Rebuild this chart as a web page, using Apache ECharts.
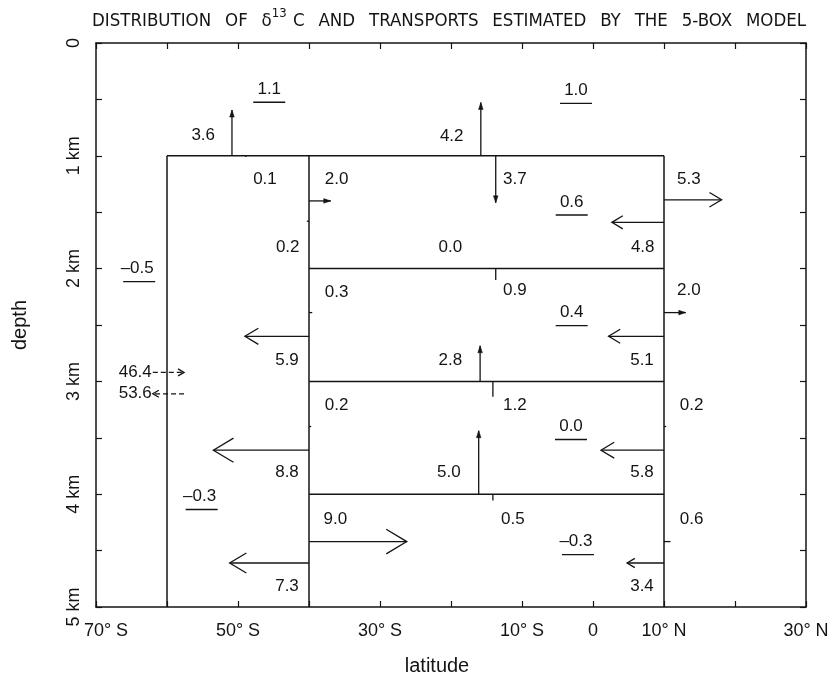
<!DOCTYPE html>
<html>
<head>
<meta charset="utf-8">
<script src="https://cdn.jsdelivr.net/npm/echarts@6/dist/echarts.min.js"></script>
<style>
html,body{margin:0;padding:0;background:#fff;}
#chart{width:830px;height:678px;}
</style>
</head>
<body>
<div id="chart"></div>
<script>
// ---------------- DATA ----------------
// latitude tick labels shown on the bottom axis (degrees, negative = south)
const latLabelValues = [-70, -50, -30, -10, 0, 10, 30];
// depth tick labels (km)
const depthLabelValues = [0, 1, 2, 3, 4, 5];

// box walls: [lat0, depth0, lat1, depth1]
const boxWalls = [
  [-60, 1, 10, 1],
  [-60, 1, -60, 5],
  [-40, 1, -40, 5],
  [10, 1, 10, 5],
  [-40, 2, 10, 2],
  [-40, 3, 10, 3],
  [-40, 4, 10, 4]
];

// delta13C values of the boxes (underlined): [value, lat, depth]
const d13cValues = [
  [1.1, -45.6, 0.41],
  [1.0, -2.4, 0.42],
  [0.6, -3.0, 1.41],
  [-0.5, -64.2, 2.00],
  [0.4, -3.0, 2.39],
  [0.0, -3.1, 3.40],
  [-0.3, -55.4, 4.02],
  [-0.3, -2.4, 4.42]
];

// vertical transports (Sv): [value, direction, lat, depth of interface, labelLat, labelDepth]
const verticalTransports = [
  [3.6, 'up', -50.85, 1, -54.9, 0.815],
  [0.1, 'down', -48.9, 1, -46.2, 1.21],
  [4.2, 'up', -15.8, 1, -19.9, 0.83],
  [3.7, 'down', -13.7, 1, -11.0, 1.21],
  [0.0, 'up', -15.9, 2, -20.1, 1.81],
  [0.9, 'down', -13.7, 2, -11.0, 2.19],
  [2.8, 'up', -15.9, 3, -20.1, 2.81],
  [1.2, 'down', -14.1, 3, -11.0, 3.21],
  [5.0, 'up', -16.1, 4, -20.3, 3.81],
  [0.5, 'down', -14.1, 4, -11.3, 4.22]
];

// meridional transports across 40°S (Sv): [value, direction, lat, depth, labelLat, labelDepth]
const transports40S = [
  [2.0, 'east', -40, 1.40, -36.1, 1.21],
  [0.2, 'west', -40, 1.58, -43.0, 1.81],
  [0.3, 'east', -40, 2.39, -36.1, 2.21],
  [5.9, 'west', -40, 2.60, -43.1, 2.81],
  [0.2, 'east', -40, 3.40, -36.1, 3.21],
  [8.8, 'west', -40, 3.61, -43.1, 3.81],
  [9.0, 'east', -40, 4.42, -36.3, 4.22],
  [7.3, 'west', -40, 4.61, -43.1, 4.82]
];

// meridional transports across 10°N (Sv)
const transports10N = [
  [5.3, 'east', 10, 1.39, 13.5, 1.21],
  [4.8, 'west', 10, 1.59, 7.0, 1.81],
  [2.0, 'east', 10, 2.39, 13.5, 2.19],
  [5.1, 'west', 10, 2.60, 6.9, 2.81],
  [0.2, 'east', 10, 3.40, 13.9, 3.21],
  [5.8, 'west', 10, 3.61, 6.9, 3.81],
  [0.6, 'east', 10, 4.42, 13.9, 4.22],
  [3.4, 'west', 10, 4.61, 6.9, 4.82]
];

// exchange across 60°S (dashed): [value, latFrom, latTo, depth]
const exchange60S = [
  [46.4, -62.0, -57.6, 2.92],
  [53.6, -57.6, -62.0, 3.11]
];

// ---------------- RENDERING ----------------
const DEG_PER_SV = 1.53;   // horizontal arrow scale
const KM_PER_SV = 0.1126;  // vertical arrow scale
const INK = '#141414';
const FONT = '"Liberation Sans", Arial, Helvetica, sans-serif';
const TITLE_FONT = '"Liberation Sans Narrow", "DejaVu Sans Condensed", "Liberation Sans", sans-serif';
const GAP = '  \u2009';

function fmt(v) {
  const s = Math.abs(v).toFixed(1);
  return v < 0 ? '\u2013' + s : s;
}

function arrowChildren(p0, p1, kind, dashed) {
  const dx = p1[0] - p0[0], dy = p1[1] - p0[1];
  const len = Math.hypot(dx, dy);
  const out = [];
  if (len < 0.8) return out;
  const ux = dx / len, uy = dy / len, nx = -uy, ny = ux;
  out.push({
    type: 'line',
    shape: { x1: p0[0], y1: p0[1], x2: p1[0], y2: p1[1] },
    style: { stroke: INK, lineWidth: 1.3, lineDash: dashed ? [5, 3] : null }
  });
  let head = 'none';
  if (dashed) head = 'small-open';
  else if (kind === 'v') head = len >= 20 ? 'filled' : 'none';
  else head = len >= 30 ? 'open' : (len >= 12 ? 'filled' : 'none');
  if (head === 'open' || head === 'small-open') {
    const hl = head === 'open' ? Math.max(7, 0.21 * len) : 6;
    const hw = head === 'open' ? 0.6 * hl : 3.5;
    out.push({
      type: 'polyline',
      shape: { points: [
        [p1[0] - ux * hl + nx * hw, p1[1] - uy * hl + ny * hw],
        [p1[0], p1[1]],
        [p1[0] - ux * hl - nx * hw, p1[1] - uy * hl - ny * hw]
      ] },
      style: { stroke: INK, lineWidth: 1.3, fill: null }
    });
  } else if (head === 'filled') {
    const hl = 7, hw = 2.3;
    out.push({
      type: 'polygon',
      shape: { points: [
        [p1[0] - ux * hl + nx * hw, p1[1] - uy * hl + ny * hw],
        [p1[0], p1[1]],
        [p1[0] - ux * hl - nx * hw, p1[1] - uy * hl - ny * hw]
      ] },
      style: { fill: INK, stroke: INK, lineWidth: 0.5 }
    });
  }
  return out;
}

function label(x, y, text, align) {
  return {
    type: 'text', x: x, y: y,
    style: { text: text, fill: INK, fontSize: 17, fontFamily: FONT,
             align: align || 'center', verticalAlign: 'middle' }
  };
}

function transportRender(params, api) {
  const v = api.value(0), dir = api.value(1);
  const lat = api.value(2), dep = api.value(3);
  let end;
  if (dir === 'up') end = [lat, dep - v * KM_PER_SV];
  else if (dir === 'down') end = [lat, dep + v * KM_PER_SV];
  else if (dir === 'east') end = [lat + v * DEG_PER_SV, dep];
  else end = [lat - v * DEG_PER_SV, dep];
  const p0 = api.coord([lat, dep]);
  const p1 = api.coord(end);
  const kind = (dir === 'up' || dir === 'down') ? 'v' : 'h';
  const pl = api.coord([api.value(4), api.value(5)]);
  const children = arrowChildren(p0, p1, kind, false);
  children.push(label(pl[0], pl[1], v.toFixed(1)));
  return { type: 'group', children: children };
}

function transportSeries(data) {
  return {
    type: 'custom',
    coordinateSystem: 'cartesian2d',
    renderItem: transportRender,
    dimensions: ['value', 'dir', 'lat', 'depth', 'labelLat', 'labelDepth'],
    encode: { x: 2, y: 3 },
    data: data,
    silent: true,
    clip: false
  };
}

const titleText = '{a|DISTRIBUTION' + GAP + 'OF' + GAP + '\u03b4}{s|13}{a| C' + GAP + 'AND' + GAP +
  'TRANSPORTS' + GAP + 'ESTIMATED' + GAP + 'BY' + GAP + 'THE' + GAP + '5-BOX' + GAP + 'MODEL}';

const option = {
  animation: false,
  backgroundColor: '#fff',
  title: {
    text: titleText,
    left: 92,
    top: 7,
    padding: 0,
    textStyle: {
      fontWeight: 'normal',
      rich: {
        a: { fontSize: 18.5, fontFamily: TITLE_FONT, fontWeight: 'normal', color: INK, lineHeight: 24, verticalAlign: 'bottom' },
        s: { fontSize: 13, fontFamily: TITLE_FONT, fontWeight: 'normal', color: INK, lineHeight: 24, verticalAlign: 'top', padding: [0, 1, 0, 0] }
      }
    }
  },
  grid: { left: 96, right: 24, top: 43, bottom: 71, outerBoundsMode: 'none' },
  xAxis: [
    {
      type: 'value', min: -70, max: 30, interval: 10, position: 'bottom',
      name: 'latitude', nameLocation: 'middle', nameGap: 49,
      nameTextStyle: { fontSize: 20, fontFamily: FONT, color: INK, padding: [0, 28, 0, 0] },
      axisLine: { show: true, onZero: false, lineStyle: { color: INK, width: 1.5 } },
      axisTick: { show: true, inside: true, length: 6, lineStyle: { color: INK, width: 1.2 } },
      splitLine: { show: false },
      axisLabel: {
        show: true, margin: 15, fontSize: 18, fontFamily: FONT, color: INK,
        formatter: function (v) {
          if (latLabelValues.indexOf(v) < 0) return '';
          if (v === 0) return '0';
          const s = v < 0 ? (-v) + '\u00b0 S' : v + '\u00b0 N';
          return v === latLabelValues[0] ? '{m|' + s + '}' : s;
        },
        rich: { m: { fontSize: 18, fontFamily: FONT, color: INK, padding: [0, 0, 0, 20] } }
      }
    },
    {
      type: 'value', min: -70, max: 30, interval: 10, position: 'top',
      axisLine: { show: true, onZero: false, lineStyle: { color: INK, width: 1.5 } },
      axisTick: { show: true, inside: true, length: 6, lineStyle: { color: INK, width: 1.2 } },
      splitLine: { show: false },
      axisLabel: { show: false }
    }
  ],
  yAxis: [
    {
      type: 'value', min: 0, max: 5, interval: 0.5, inverse: true, position: 'left',
      name: 'depth', nameLocation: 'middle', nameGap: 66,
      nameTextStyle: { fontSize: 20, fontFamily: FONT, color: INK },
      axisLine: { show: true, onZero: false, lineStyle: { color: INK, width: 1.5 } },
      axisTick: { show: true, inside: true, length: 6, lineStyle: { color: INK, width: 1.2 } },
      splitLine: { show: false },
      axisLabel: {
        show: true, rotate: 90, margin: 13, fontSize: 18, fontFamily: FONT, color: INK,
        formatter: function (v) {
          if (depthLabelValues.indexOf(v) < 0) return '';
          return v === 0 ? '0' : v + ' km';
        }
      }
    },
    {
      type: 'value', min: 0, max: 5, interval: 0.5, inverse: true, position: 'right',
      axisLine: { show: true, onZero: false, lineStyle: { color: INK, width: 1.5 } },
      axisTick: { show: true, inside: true, length: 6, lineStyle: { color: INK, width: 1.2 } },
      splitLine: { show: false },
      axisLabel: { show: false }
    }
  ],
  series: [
    {
      type: 'custom',
      coordinateSystem: 'cartesian2d',
      silent: true,
      clip: false,
      encode: { x: [0, 2], y: [1, 3] },
      data: boxWalls,
      renderItem: function (params, api) {
        const a = api.coord([api.value(0), api.value(1)]);
        const b = api.coord([api.value(2), api.value(3)]);
        return { type: 'line', shape: { x1: a[0], y1: a[1], x2: b[0], y2: b[1] },
                 style: { stroke: INK, lineWidth: 1.5 } };
      }
    },
    {
      type: 'custom',
      coordinateSystem: 'cartesian2d',
      silent: true,
      clip: false,
      encode: { x: 1, y: 2 },
      data: d13cValues,
      renderItem: function (params, api) {
        const v = api.value(0);
        const p = api.coord([api.value(1), api.value(2)]);
        const off = v < 0 ? 2 : 0;
        return { type: 'group', children: [
          label(p[0], p[1], fmt(v)),
          { type: 'line', shape: { x1: p[0] - 16 + off, y1: p[1] + 13, x2: p[0] + 16 + off, y2: p[1] + 13 },
            style: { stroke: INK, lineWidth: 1.4 } }
        ] };
      }
    },
    transportSeries(verticalTransports),
    transportSeries(transports40S),
    transportSeries(transports10N),
    {
      type: 'custom',
      coordinateSystem: 'cartesian2d',
      silent: true,
      clip: false,
      encode: { x: [1, 2], y: 3 },
      data: exchange60S,
      renderItem: function (params, api) {
        const v = api.value(0);
        const p0 = api.coord([api.value(1), api.value(3)]);
        const p1 = api.coord([api.value(2), api.value(3)]);
        const children = arrowChildren(p0, p1, 'h', true);
        children.push(label(Math.min(p0[0], p1[0]) - 1, p0[1], v.toFixed(1), 'right'));
        return { type: 'group', children: children };
      }
    }
  ]
};

const chart = echarts.init(document.getElementById('chart'), null, { renderer: 'canvas' });
chart.setOption(option);
</script>
</body>
</html>
